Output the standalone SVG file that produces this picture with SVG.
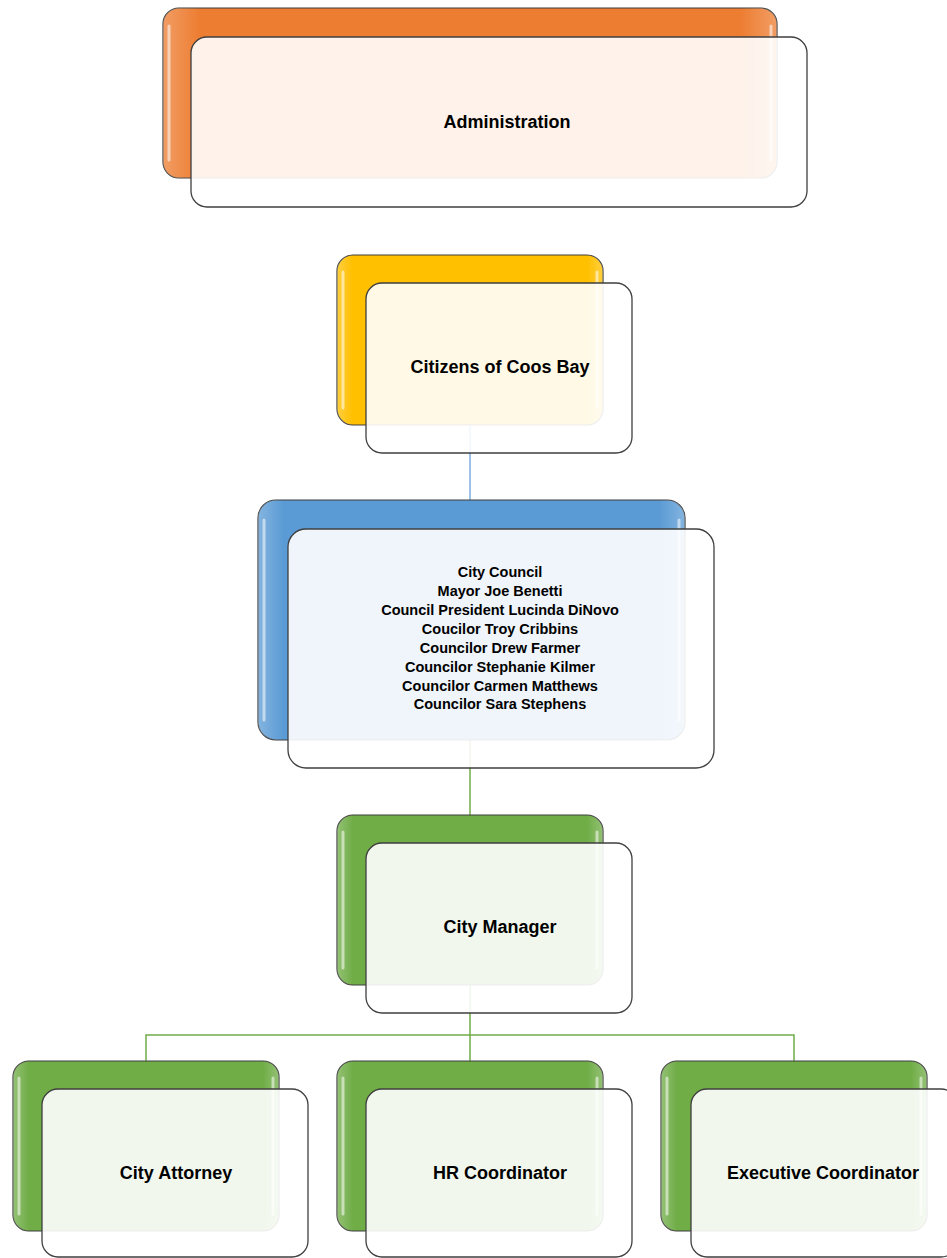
<svg xmlns="http://www.w3.org/2000/svg" width="947" height="1258" viewBox="0 0 947 1258">
  <defs>
    <style>
      .back { stroke: #3f3f3f; stroke-width: 1.2; }
      .gloss { fill: none; stroke: #ffffff; stroke-opacity: 0.55; stroke-width: 3; stroke-linecap: round; }
      .front { fill: #ffffff; fill-opacity: 0.9; stroke: #3f3f3f; stroke-width: 1.3; }
      .label { font-family: "Liberation Sans", Arial, sans-serif; font-weight: bold; font-size: 18px; fill: #000; text-anchor: middle; dominant-baseline: central; }
      .small { font-size: 14.5px; }
      .link-blue { stroke: #5b9bd5; stroke-width: 1.2; fill: none; }
      .link-green { stroke: #70ad47; stroke-width: 1.5; fill: none; }
    </style>
    <linearGradient id="sheen" x1="0" y1="0" x2="1" y2="0">
      <stop offset="0" stop-color="#fff" stop-opacity="0.25"/>
      <stop offset="0.06" stop-color="#fff" stop-opacity="0"/>
      <stop offset="0.94" stop-color="#fff" stop-opacity="0"/>
      <stop offset="1" stop-color="#fff" stop-opacity="0.25"/>
    </linearGradient>
  </defs>

  <!-- connectors -->
  <g id="connectors">
    <line class="link-blue" x1="470" y1="425" x2="470" y2="500"/>
    <line class="link-green" x1="470" y1="740" x2="470" y2="815"/>
    <path class="link-green" d="M470 984 V1035 M146 1061 V1035 H794 V1061 M470 1035 V1061"/>
  </g>

  <!-- Administration -->
  <g id="node-administration">
    <rect class="back" x="163" y="8" width="614" height="170" rx="16" fill="#ed7d31"/>
    <rect x="163" y="8" width="614" height="170" rx="16" fill="url(#sheen)"/>
    <path class="gloss" d="M169 26 V160 M771 26 V160"/>
    <rect class="front" x="191" y="37" width="616" height="170" rx="16"/>
    <text class="label" x="507" y="122">Administration</text>
  </g>

  <!-- Citizens of Coos Bay -->
  <g id="node-citizens">
    <rect class="back" x="337" y="255" width="266" height="170" rx="16" fill="#ffc000"/>
    <rect x="337" y="255" width="266" height="170" rx="16" fill="url(#sheen)"/>
    <path class="gloss" d="M343 272 V408 M597 272 V408"/>
    <rect class="front" x="366" y="283" width="266" height="170" rx="16"/>
    <text class="label" x="500" y="367">Citizens of Coos Bay</text>
  </g>

  <!-- City Council -->
  <g id="node-council">
    <rect class="back" x="258" y="500" width="427" height="240" rx="18" fill="#5b9bd5"/>
    <rect x="258" y="500" width="427" height="240" rx="18" fill="url(#sheen)"/>
    <path class="gloss" d="M264 520 V720 M679 520 V720"/>
    <rect class="front" x="288" y="529" width="426" height="239" rx="18"/>
    <text class="label small" x="500" y="572">City Council</text>
    <text class="label small" x="500" y="591">Mayor Joe Benetti</text>
    <text class="label small" x="500" y="610">Council President Lucinda DiNovo</text>
    <text class="label small" x="500" y="629">Coucilor Troy Cribbins</text>
    <text class="label small" x="500" y="648">Councilor Drew Farmer</text>
    <text class="label small" x="500" y="667">Councilor Stephanie Kilmer</text>
    <text class="label small" x="500" y="686">Councilor Carmen Matthews</text>
    <text class="label small" x="500" y="704">Councilor Sara Stephens</text>
  </g>

  <!-- City Manager -->
  <g id="node-manager">
    <rect class="back" x="337" y="815" width="266" height="170" rx="16" fill="#70ad47"/>
    <rect x="337" y="815" width="266" height="170" rx="16" fill="url(#sheen)"/>
    <path class="gloss" d="M343 832 V968 M597 832 V968"/>
    <rect class="front" x="366" y="843" width="266" height="170" rx="16"/>
    <text class="label" x="500" y="927">City Manager</text>
  </g>

  <!-- City Attorney -->
  <g id="node-attorney">
    <rect class="back" x="13" y="1061" width="266" height="170" rx="16" fill="#70ad47"/>
    <rect x="13" y="1061" width="266" height="170" rx="16" fill="url(#sheen)"/>
    <path class="gloss" d="M19 1078 V1214 M273 1078 V1214"/>
    <rect class="front" x="42" y="1089" width="266" height="168" rx="16"/>
    <text class="label" x="176" y="1173">City Attorney</text>
  </g>

  <!-- HR Coordinator -->
  <g id="node-hr">
    <rect class="back" x="337" y="1061" width="266" height="170" rx="16" fill="#70ad47"/>
    <rect x="337" y="1061" width="266" height="170" rx="16" fill="url(#sheen)"/>
    <path class="gloss" d="M343 1078 V1214 M597 1078 V1214"/>
    <rect class="front" x="366" y="1089" width="266" height="168" rx="16"/>
    <text class="label" x="500" y="1173">HR Coordinator</text>
  </g>

  <!-- Executive Coordinator -->
  <g id="node-executive">
    <rect class="back" x="661" y="1061" width="266" height="170" rx="16" fill="#70ad47"/>
    <rect x="661" y="1061" width="266" height="170" rx="16" fill="url(#sheen)"/>
    <path class="gloss" d="M667 1078 V1214 M921 1078 V1214"/>
    <rect class="front" x="691" y="1089" width="266" height="168" rx="16"/>
    <text class="label" x="823" y="1173">Executive Coordinator</text>
  </g>
</svg>
